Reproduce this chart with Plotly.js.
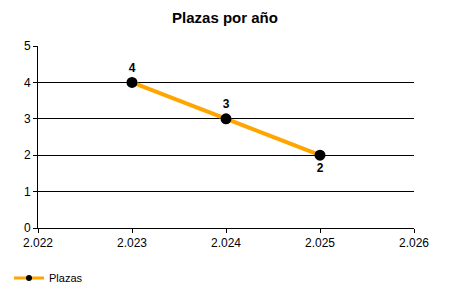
<!DOCTYPE html>
<html>
<head>
<meta charset="utf-8">
<script src="https://cdn.plot.ly/plotly-3.0.1.min.js"></script>
<style>html,body{margin:0;padding:0;background:#fff;}#chart{width:450px;height:300px;}</style>
</head>
<body>
<div id="chart"></div>
<script>
const years = [2023, 2024, 2025];
const plazas = [4, 3, 2];
const labelPositions = ['top center', 'top center', 'bottom center'];
const seriesName = 'Plazas';
const chartTitle = 'Plazas por año';

const trace = {
  x: years,
  y: plazas,
  name: seriesName,
  type: 'scatter',
  mode: 'lines+markers+text',
  text: plazas.map(String),
  textposition: labelPositions,
  textfont: {family: 'Liberation Sans, Arial, sans-serif', size: 12, color: '#000', weight: 'bold'},
  line: {color: '#FFA500', width: 4},
  marker: {color: '#000', size: 11},
  cliponaxis: false,
  showlegend: false,
  hoverinfo: 'none'
};

const legendTrace = {
  x: [null], y: [null],
  name: seriesName,
  type: 'scatter',
  mode: 'lines+markers',
  line: {color: '#FFA500', width: 3},
  marker: {color: '#000', size: 6},
  showlegend: true,
  hoverinfo: 'none'
};

const layout = {
  width: 450, height: 300,
  margin: {l: 38, r: 36, t: 46, b: 72},
  paper_bgcolor: '#fff', plot_bgcolor: '#fff',
  separators: ',.',
  font: {family: 'Liberation Sans, Arial, sans-serif', size: 12, color: '#000'},
  title: {text: '<b>' + chartTitle + '</b>', font: {size: 15, color: '#000'}, x: 0.5, xanchor: 'center', y: 0.94, yref: 'container', yanchor: 'middle'},
  xaxis: {
    range: [2022, 2026], dtick: 1, tick0: 2022, tickformat: ',d',
    showgrid: false, zeroline: false, showline: true, linecolor: '#000', linewidth: 1,
    ticks: 'outside', ticklen: 4, tickcolor: '#000', tickfont: {size: 12}
  },
  yaxis: {
    range: [0, 5], dtick: 1,
    showgrid: true, gridcolor: '#000', gridwidth: 1, zeroline: false,
    showline: true, linecolor: '#000', linewidth: 1,
    ticks: 'outside', ticklen: 4, tickcolor: '#000', tickfont: {size: 12}
  },
  showlegend: true,
  legend: {orientation: 'h', xref: 'container', yref: 'container', x: 0.02, y: 0.073, xanchor: 'left', yanchor: 'middle', font: {size: 11}, itemwidth: 30}
};

Plotly.newPlot('chart', [trace, legendTrace], layout, {staticPlot: true, displayModeBar: false});
</script>
</body>
</html>
